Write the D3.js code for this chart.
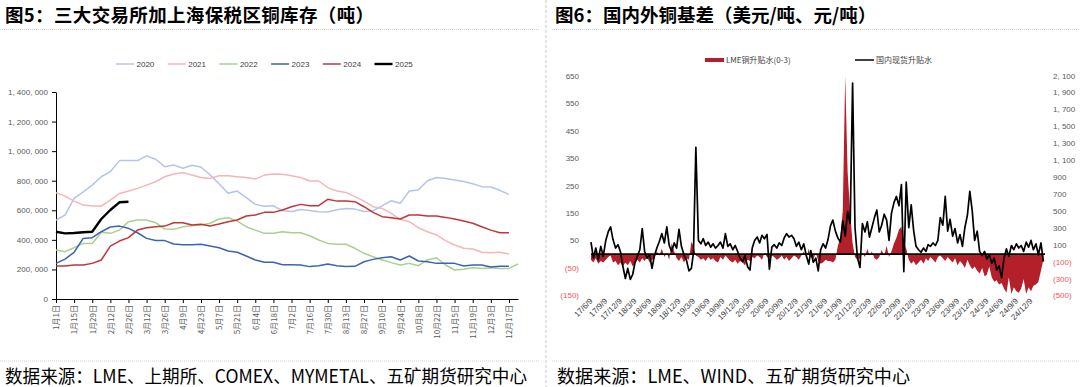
<!DOCTYPE html>
<html lang="zh">
<head>
<meta charset="UTF-8">
<title>铜库存与铜基差</title>
<script src="https://d3js.org/d3.v7.min.js"></script>
<style>
  body { margin: 0; padding: 0; background: #fff; }
  svg { display: block; font-family: "Liberation Sans", "Noto Sans CJK SC", sans-serif; }
  .cjk { font-family: "Noto Sans CJK SC", sans-serif; }
  .tick text { fill: #595959; }
</style>
</head>
<body>
<svg id="chart" width="1080" height="387"></svg>
<script>
// ---------- 图5：库存（千吨），每周一个点 ----------
const weekLabels = ["1月1日","1月15日","1月29日","2月12日","2月26日","3月12日","3月26日","4月9日","4月23日",
  "5月7日","5月21日","6月4日","6月18日","7月2日","7月16日","7月30日","8月13日","8月27日","9月10日",
  "9月24日","10月8日","10月22日","11月5日","11月19日","12月3日","12月17日"];
const years = ["2020","2021","2022","2023","2024","2025"];
const inv2020 = [534,568,680,725,770,827,861,936,936,936,968,945,895,907,884,905,893,840,780,715,730,685,640,628,630,597,
  592,605,598,590,588,603,612,608,592,597,630,665,647,730,737,800,822,815,805,795,780,760,758,735,708];
const inv2021 = [719,696,662,635,629,629,669,714,730,748,770,793,827,845,856,838,822,815,834,834,827,822,811,838,845,843,
  834,822,798,798,753,730,721,692,662,624,613,579,539,523,482,455,433,395,365,343,338,316,313,316,304];
const inv2022 = [331,320,347,376,376,451,444,466,523,534,534,516,473,471,489,496,500,512,541,550,527,489,466,444,444,455,
  448,448,428,399,376,370,370,343,309,286,264,246,230,241,225,264,279,230,196,201,212,207,212,207,207,237];
const inv2023 = [241,270,316,410,415,455,487,493,478,448,410,395,395,372,367,367,370,358,347,325,316,291,264,248,248,232,
  232,230,219,225,237,225,219,221,252,268,279,286,264,291,257,252,241,241,241,223,230,230,216,221,221];
const inv2024 = [223,223,230,230,241,264,358,392,415,466,482,489,493,516,516,500,505,493,507,523,534,561,568,586,586,602,
  624,640,631,631,674,662,662,658,624,586,557,550,541,568,568,561,561,552,541,527,512,489,466,448,448];
const inv2025 = [455,444,446,451,455,541,602,654,658];
const invTicks = [0,200,400,600,800,1000,1200,1400];

// ---------- 图6：基差，半月一个点（每月9日、24日），2017/6/9 起 ----------
const lmeSpread = [
  -20,-30,-15,-35,-25,-30,-20,-10,-5,-30,-25,-40,-30,-45,
  -30,-40,-25,-45,-35,-20,-30,-15,-25,-10,-30,-20,-15,10,-5,20,-10,5,-20,40,10,-15,-25,-10,
  -30,-15,-20,45,30,-5,-10,-20,-15,-25,-10,-20,-15,-25,-30,-10,-20,-5,-15,-25,-30,-20,-35,-25,
  -30,-40,-20,-25,-10,-15,-5,-10,-20,5,-10,-15,-5,-10,-20,-15,-5,-20,-10,-25,-15,-5,-10,-20,
  -5,10,-15,20,-10,-20,5,-25,-35,-30,-20,-25,-25,-30,-20,30,60,160,650,300,150,40,-10,-20,
  -15,5,-10,20,-5,10,-15,-20,-10,15,-5,30,-10,10,40,60,90,100,40,20,-20,-35,-25,-40,
  -30,-20,-35,-15,-25,-10,-20,-30,-10,-5,-15,-25,-10,-20,-30,-15,-40,-25,-35,-50,-20,-40,-55,-45,
  -60,-70,-50,-80,-75,-45,-85,-100,-95,-110,-105,-125,-140,-85,-145,-120,-135,-140,-125,-90,-145,-120,-135,-115,
  -110,-100,-60,-20];
const cnSpot = [
  130,-60,60,-80,80,-40,150,250,310,160,60,100,20,-150,
  -300,-180,-310,-250,-120,-40,40,290,20,-60,-20,-180,-30,60,140,230,120,310,90,20,120,60,280,80,
  -20,-80,-210,-180,0,1250,150,110,170,90,130,70,110,60,90,130,60,230,80,110,40,90,20,-60,
  -100,-30,-160,-200,60,150,190,120,210,170,220,-190,70,100,60,120,90,180,230,190,210,170,80,130,
  40,110,-30,-130,30,-110,-60,-210,40,110,60,160,320,390,260,180,130,380,200,490,350,2010,300,-50,
  -170,350,250,370,190,300,420,510,250,330,460,390,150,470,600,670,560,810,-220,840,300,570,270,80,
  40,10,60,20,100,80,120,90,150,420,330,670,260,400,200,290,120,220,80,300,450,730,500,150,
  260,20,-30,20,-70,-20,-120,-60,-200,-150,-290,-60,50,-40,90,40,110,60,90,20,130,70,150,40,
  110,-20,120,-100];
const leftTicks = [-150,-50,50,150,250,350,450,550,650];
const rightTicks = [-500,-300,-100,100,300,500,700,900,1100,1300,1500,1700,1900,2100];

const svg = d3.select("#chart");
const commaSp = v => d3.format(",")(v).replace(/,/g, ", ");

// ---------- 框架：标题、分隔线、来源 ----------
svg.append("line").attr("x1", 546).attr("x2", 546).attr("y1", 0).attr("y2", 387)
  .attr("stroke", "#c8c8c8").attr("stroke-dasharray", "3,2");
[[0, 540], [552, 1080]].forEach(([a, b]) => {
  [29.5, 361].forEach(y => svg.append("line").attr("x1", a).attr("x2", b).attr("y1", y).attr("y2", y)
    .attr("stroke", "#cfcfcf").attr("stroke-dasharray", "1,1"));
});
svg.append("text").attr("class", "cjk").attr("x", 5).attr("y", 21.5).attr("font-size", 18.5).attr("font-weight", "bold")
  .attr("textLength", 369).attr("lengthAdjust", "spacing")
  .text("图5：三大交易所加上海保税区铜库存（吨）");
svg.append("text").attr("class", "cjk").attr("x", 555).attr("y", 21.5).attr("font-size", 18.5).attr("font-weight", "bold")
  .text("图6：国内外铜基差（美元/吨、元/吨）");
svg.append("text").attr("class", "cjk").attr("x", 5).attr("y", 383).attr("font-size", 18)
  .attr("textLength", 522).attr("lengthAdjust", "spacingAndGlyphs")
  .text("数据来源：LME、上期所、COMEX、MYMETAL、五矿期货研究中心");
svg.append("text").attr("class", "cjk").attr("x", 557).attr("y", 383).attr("font-size", 18)
  .attr("textLength", 353).attr("lengthAdjust", "spacingAndGlyphs")
  .text("数据来源：LME、WIND、五矿期货研究中心");

// ---------- 图5 ----------
const invSeries = [inv2020, inv2021, inv2022, inv2023, inv2024, inv2025];
const invColors = ["#b4c3ea", "#f4b6b8", "#a9d18e", "#3c64b1", "#c0373a", "#000000"];
const xWeek = d3.scalePoint().domain(d3.range(52)).range([56, 518]);
const yInv = d3.scaleLinear().domain([0, 1400]).range([299, 92]);

const g5 = svg.append("g");
g5.append("g").attr("transform", "translate(56,0)")
  .call(d3.axisLeft(yInv).tickValues(invTicks).tickSize(4).tickSizeOuter(0).tickPadding(4)
    .tickFormat(d => commaSp(d * 1000)))
  .call(g => g.select(".domain").attr("stroke", "#000"))
  .call(g => g.selectAll(".tick line").attr("stroke", "#000"))
  .call(g => g.selectAll("text").attr("font-size", 8));

g5.append("g").attr("transform", "translate(0,299)")
  .call(d3.axisBottom(xWeek).tickValues(d3.range(0, 52, 2)).tickSize(4).tickSizeOuter(0)
    .tickFormat(i => weekLabels[i / 2]))
  .call(g => g.select(".domain").attr("stroke", "#000"))
  .call(g => g.selectAll(".tick line").attr("stroke", "#000"))
  .call(g => g.selectAll("text").attr("class", "cjk").attr("font-size", 8)
    .attr("transform", "rotate(-90)").attr("x", -6).attr("y", 0).attr("dy", "0.35em")
    .style("text-anchor", "end"));

const invLine = d3.line().x((d, i) => xWeek(i)).y(d => yInv(d));
invSeries.forEach((s, k) => {
  g5.append("path").datum(s).attr("d", invLine).attr("fill", "none")
    .attr("stroke", invColors[k]).attr("stroke-width", k === 5 ? 2.4 : 1.5)
    .attr("stroke-linejoin", "round");
});

const lg5 = g5.append("g").attr("transform", "translate(116,64)");
years.forEach((y, k) => {
  const it = lg5.append("g").attr("transform", `translate(${k * 51.7},0)`);
  it.append("line").attr("x1", 0).attr("x2", 18).attr("stroke", invColors[k]).attr("stroke-width", k === 5 ? 2.4 : 1.5);
  it.append("text").attr("x", 20.5).attr("dy", "0.35em").attr("font-size", 8).attr("fill", "#404040").text(y);
});

// ---------- 图6 ----------
const basisDates = lmeSpread.map((_, i) => new Date(2017, 5 + Math.floor(i / 2), i % 2 ? 24 : 9));
const xDate = d3.scaleTime().domain([new Date(2017, 5, 9), new Date(2024, 11, 9)]).range([591, 1031]);
const yL = d3.scaleLinear().domain([-150, 650]).range([295.4, 75.5]);
const yR = d3.scaleLinear().domain([-500, 2100]).range([295.4, 75.5]);

const g6 = svg.append("g");
g6.append("clipPath").attr("id", "plot6").append("rect")
  .attr("x", 585).attr("y", 75.5).attr("width", 465).attr("height", 219.9);

const negRed = "#f25757";
g6.append("g").attr("transform", "translate(582,0)")
  .call(d3.axisLeft(yL).tickValues(leftTicks).tickSize(0).tickPadding(3)
    .tickFormat(d => d < 0 ? `(${-d})` : d))
  .call(g => g.select(".domain").remove())
  .call(g => g.selectAll("text").attr("font-size", 8).style("fill", d => d < 0 ? negRed : "#595959"));

g6.append("g").attr("transform", "translate(1050,0)")
  .call(d3.axisRight(yR).tickValues(rightTicks).tickSize(0).tickPadding(3)
    .tickFormat(d => d < 0 ? `(${commaSp(-d)})` : commaSp(d)))
  .call(g => g.select(".domain").remove())
  .call(g => g.selectAll("text").attr("font-size", 8).style("fill", d => d < 0 ? negRed : "#595959"));

const quarterTicks = d3.range(31).map(k => new Date(2017, 5 + 3 * k, 9));
g6.append("g").attr("transform", "translate(0,300)")
  .call(d3.axisBottom(xDate).tickValues(quarterTicks).tickSize(0).tickFormat(d3.timeFormat("%y/%-m/%-d")))
  .call(g => g.select(".domain").remove())
  .call(g => g.selectAll("text").attr("font-size", 8).attr("x", 0).attr("y", 0).attr("dy", "0.3em")
    .attr("transform", "rotate(-45)").style("text-anchor", "end").style("fill", "#404040"));

const plot = g6.append("g").attr("clip-path", "url(#plot6)");
plot.append("path").datum(lmeSpread)
  .attr("d", d3.area().x((d, i) => xDate(basisDates[i])).y0(yL(0)).y1(d => yL(d)))
  .attr("fill", "#b3202a");
plot.append("line").attr("x1", 591).attr("x2", 1045).attr("y1", yL(0)).attr("y2", yL(0))
  .attr("stroke", "#000").attr("stroke-width", 1.8);
plot.append("path").datum(cnSpot)
  .attr("d", d3.line().x((d, i) => xDate(basisDates[i])).y(d => yR(d)))
  .attr("fill", "none").attr("stroke", "#000").attr("stroke-width", 1.7).attr("stroke-linejoin", "round");

const lg6 = g6.append("g").attr("transform", "translate(705,60)");
lg6.append("rect").attr("x", 0).attr("y", -2).attr("width", 19).attr("height", 4).attr("fill", "#b3202a");
lg6.append("text").attr("class", "cjk").attr("x", 21).attr("dy", "0.35em").attr("font-size", 8).attr("fill", "#404040")
  .text("LME铜升贴水(0-3)");
lg6.append("line").attr("x1", 150).attr("x2", 169).attr("stroke", "#404040").attr("stroke-width", 2);
lg6.append("text").attr("class", "cjk").attr("x", 171).attr("dy", "0.35em").attr("font-size", 8).attr("fill", "#404040")
  .text("国内现货升贴水");
</script>
</body>
</html>
